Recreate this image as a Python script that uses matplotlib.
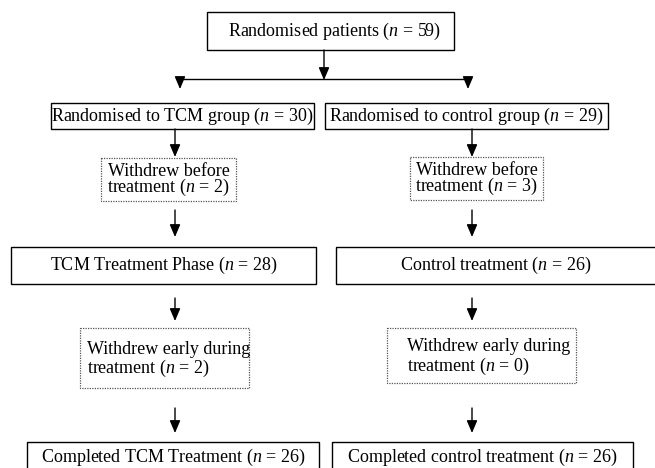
import matplotlib.pyplot as plt
from matplotlib.patches import Rectangle

plt.rcParams['font.family'] = 'Liberation Serif'
plt.rcParams['mathtext.fontset'] = 'custom'
plt.rcParams['mathtext.rm'] = 'Liberation Serif'
plt.rcParams['mathtext.it'] = 'Liberation Serif:italic'

# flow data
total_n = 59
groups = ["TCM", "control"]
group_n = [30, 29]
withdrew_before = [2, 3]
treatment_labels = ["TCM Treatment Phase", "Control treatment"]
treatment_n = [28, 26]
withdrew_early = [2, 0]
completed_labels = ["Completed TCM Treatment", "Completed control treatment"]
completed_n = [26, 26]


def nstr(n):
    return f"($n$ = {n})"


fig = plt.figure(figsize=(6.55, 4.68), dpi=100)
ax = fig.add_axes([0, 0, 1, 1])
ax.set_xlim(0, 655)
ax.set_ylim(468, 0)
ax.axis('off')

FS = 13


def box(x0, x1, y0, y1, dotted=False):
    if dotted:
        r = Rectangle((x0, y0), x1 - x0, y1 - y0, fill=False, ec='#555555',
                      lw=0.9, ls=(0, (1, 1)))
    else:
        r = Rectangle((x0, y0), x1 - x0, y1 - y0, fill=False, ec='black', lw=1.0)
    ax.add_patch(r)


def arrow(x, y0, y1):
    ax.annotate('', xy=(x, y1), xytext=(x, y0),
                arrowprops=dict(arrowstyle='-|>,head_length=0.75,head_width=0.32',
                                color='black', lw=1.0, shrinkA=0, shrinkB=0))


# top
box(207, 454, 12, 50)
ax.text(334, 31, f"Randomised patients {nstr(total_n)}", ha='center', va='center', fontsize=FS)
arrow(324, 50, 80)
ax.plot([180, 468], [79, 79], color='black', lw=1.0)
arrow(180, 79, 89)
arrow(468, 79, 89)

col_x = [175, 472]

# box extents
grp_box = [(51, 314), (325, 608)]
wb_box = [(101, 236, 158, 201), (410, 543, 157, 200)]
tr_box = [(11, 316), (336, 660)]
we_box = [(80, 249, 328, 388), (387, 576, 328, 383)]
we_tx = [87, 407]
cp_box = [(27, 319), (332, 633)]

for i in range(2):
    x0, x1 = grp_box[i]
    box(x0, x1, 103, 129)
    ax.text((x0 + x1) / 2, 116.5, f"Randomised to {groups[i]} group {nstr(group_n[i])}",
            ha='center', va='center', fontsize=FS)
    arrow(col_x[i], 129, 157)

    bx0, bx1, by0, by1 = wb_box[i]
    box(bx0, bx1, by0, by1, dotted=True)
    ax.text((bx0 + bx1) / 2, (by0 + by1) / 2 + 1,
            f"Withdrew before\ntreatment {nstr(withdrew_before[i])}",
            ha='center', va='center', multialignment='center', fontsize=FS,
            linespacing=0.85)
    arrow(col_x[i], 210, 237)

    tx0, tx1 = tr_box[i]
    box(tx0, tx1, 247, 284)
    ax.text((tx0 + min(tx1, 656)) / 2, 265.5, f"{treatment_labels[i]} {nstr(treatment_n[i])}",
            ha='center', va='center', fontsize=FS)
    arrow(col_x[i], 298, 321)

    ex0, ex1, ey0, ey1 = we_box[i]
    box(ex0, ex1, ey0, ey1, dotted=True)
    ax.text(we_tx[i], (ey0 + ey1) / 2 + 2,
            f"Withdrew early during\ntreatment {nstr(withdrew_early[i])}",
            ha='left', va='center', fontsize=FS, linespacing=1.0)
    arrow(col_x[i], 408, 433)

    cx0, cx1 = cp_box[i]
    box(cx0, cx1, 442, 480)
    ax.text((cx0 + cx1) / 2, 457, f"{completed_labels[i]} {nstr(completed_n[i])}",
            ha='center', va='center', fontsize=FS)

fig.savefig('out.png', dpi=100)
